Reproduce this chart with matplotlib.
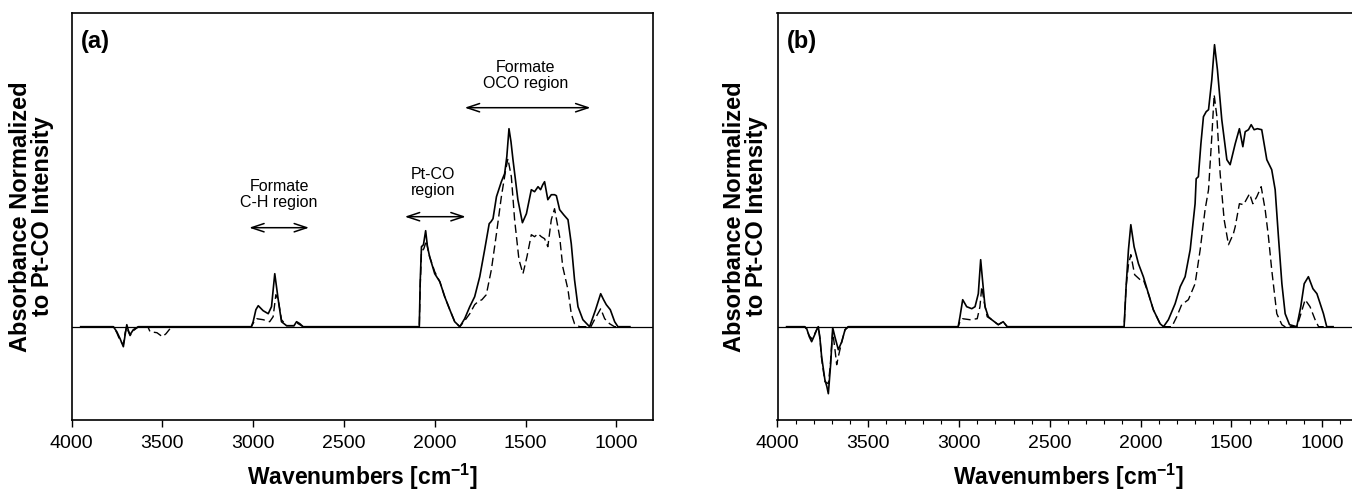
import numpy as np
import matplotlib
matplotlib.use("Agg")
import matplotlib.pyplot as plt
from matplotlib.ticker import MultipleLocator

plt.rcParams['font.family'] = ['Liberation Sans', 'DejaVu Sans']
plt.rcParams['mathtext.fontset'] = 'custom'
plt.rcParams['mathtext.rm'] = 'Liberation Sans:bold'
plt.rcParams['mathtext.bf'] = 'Liberation Sans:bold'

# panel (a) spectra (wavenumber, normalized absorbance)
wa_solid = [3950, 3770, 3751, 3733, 3715, 3705, 3696, 3687, 3678, 3660, 3632,
            3010, 3000, 2985, 2972, 2945, 2917, 2899, 2881, 2862, 2844, 2816,
            2775, 2761, 2743, 2725,
            2085, 2080, 2073, 2062, 2050, 2040, 2028, 2000, 1972, 1945, 1917,
            1890, 1862, 1835, 1807, 1780, 1752, 1725, 1700, 1690, 1679, 1660,
            1633, 1615, 1603, 1591, 1580, 1569, 1542, 1517, 1495, 1468, 1450,
            1431, 1417, 1405, 1395, 1377, 1358, 1340, 1330, 1312, 1290, 1266,
            1248, 1230, 1211, 1184, 1147, 1114, 1086, 1070, 1055, 1033, 1009,
            991, 925]
ya_solid = [0, 0, -0.05, -0.12, -0.20, -0.08, 0.02, -0.04, -0.08, -0.03, 0,
            0, 0.05, 0.17, 0.21, 0.16, 0.13, 0.20, 0.53, 0.27, 0.05, 0.01,
            0.01, 0.05, 0.03, 0,
            0, 0.45, 0.80, 0.82, 0.96, 0.80, 0.70, 0.53, 0.45, 0.30, 0.17,
            0.05, 0, 0.08, 0.20, 0.30, 0.50, 0.77, 1.03, 1.05, 1.08, 1.30,
            1.45, 1.53, 1.70, 1.98, 1.85, 1.67, 1.27, 1.04, 1.13, 1.37, 1.35,
            1.40, 1.37, 1.42, 1.45, 1.27, 1.32, 1.32, 1.31, 1.17, 1.12, 1.07,
            0.83, 0.47, 0.20, 0.07, 0, 0.17, 0.33, 0.27, 0.22, 0.17, 0.05,
            0, 0]

wa_dash = [3950, 3770, 3751, 3733, 3715, 3705, 3696, 3687, 3678, 3660, 3632,
           3580, 3568, 3530, 3500, 3480, 3458, 3440,
           3010, 2995, 2981, 2945, 2909, 2890, 2875, 2862, 2844, 2816,
           2775, 2761, 2743, 2725,
           2085, 2080, 2073, 2060, 2046, 2035, 2028, 2000, 1972, 1945, 1917,
           1890, 1862, 1835, 1807, 1780, 1762, 1740, 1716, 1688, 1660, 1633,
           1609, 1597, 1578, 1560, 1536, 1514, 1492, 1468, 1450, 1431, 1413,
           1395, 1377, 1358, 1340, 1312, 1295, 1266, 1248, 1230, 1202, 1140,
           1120, 1086, 1064, 1037, 1010, 925]
ya_dash = [0, 0, -0.06, -0.14, -0.18, -0.06, 0.0, -0.05, -0.09, -0.04, 0,
           0, -0.05, -0.06, -0.10, -0.07, -0.02, 0,
           0, 0.05, 0.08, 0.07, 0.05, 0.10, 0.32, 0.27, 0.07, 0.01,
           0.01, 0.04, 0.02, 0,
           0, 0.40, 0.75, 0.78, 0.86, 0.75, 0.70, 0.55, 0.45, 0.30, 0.17,
           0.05, 0, 0.06, 0.13, 0.22, 0.25, 0.27, 0.32, 0.57, 0.93, 1.30,
           1.57, 1.68, 1.50, 1.07, 0.67, 0.53, 0.70, 0.92, 0.90, 0.93, 0.90,
           0.88, 0.80, 1.07, 1.18, 0.90, 0.60, 0.37, 0.13, 0.03, 0, 0,
           0.07, 0.18, 0.08, 0.03, 0, 0]

# panel (b) spectra
wb_solid = [3950, 3850, 3839, 3825, 3812, 3795, 3784, 3775, 3766, 3757, 3739,
            3728, 3720, 3707, 3696, 3684, 3665, 3646, 3628, 3610,
            3005, 2995, 2980, 2958, 2930, 2912, 2894, 2881, 2870, 2857, 2839,
            2820, 2784, 2757, 2735,
            2091, 2080, 2067, 2054, 2036, 2012, 1985, 1957, 1930, 1893, 1874,
            1847, 1810, 1782, 1755, 1727, 1700, 1694, 1682, 1668, 1654, 1639,
            1626, 1608, 1593, 1577, 1553, 1525, 1507, 1479, 1456, 1437, 1424,
            1406, 1391, 1375, 1357, 1333, 1305, 1278, 1259, 1241, 1222, 1204,
            1180, 1140, 1118, 1099, 1076, 1051, 1029, 1011, 993, 975, 940]
yb_solid = [0, 0, -0.02, -0.10, -0.15, -0.08, -0.03, 0, -0.12, -0.30, -0.53,
            -0.60, -0.67, -0.37, -0.01, -0.10, -0.23, -0.15, -0.03, 0,
            0, 0.10, 0.27, 0.20, 0.18, 0.20, 0.33, 0.67, 0.45, 0.20, 0.10,
            0.07, 0.02, 0.05, 0,
            0, 0.40, 0.77, 1.02, 0.80, 0.63, 0.50, 0.33, 0.17, 0.03, 0,
            0.07, 0.23, 0.40, 0.50, 0.77, 1.23, 1.48, 1.50, 1.83, 2.10, 2.15,
            2.17, 2.47, 2.82, 2.57, 2.07, 1.67, 1.62, 1.83, 1.98, 1.80, 1.95,
            1.97, 2.02, 1.97, 1.98, 1.97, 1.67, 1.57, 1.37, 0.90, 0.43, 0.13,
            0.02, 0, 0.20, 0.43, 0.50, 0.38, 0.33, 0.23, 0.13, 0, 0]

wb_dash = [3950, 3850, 3839, 3825, 3812, 3795, 3784, 3775, 3766, 3757, 3739,
           3720, 3710, 3696, 3684, 3674, 3665, 3646, 3628, 3610,
           3005, 2995, 2981, 2940, 2900, 2885, 2875, 2862, 2845, 2820, 2784,
           2757, 2735,
           2091, 2080, 2067, 2054, 2033, 2003, 1985, 1957, 1930, 1893, 1874,
           1828, 1801, 1774, 1737, 1700, 1672, 1645, 1626, 1608, 1595, 1580,
           1562, 1540, 1516, 1489, 1479, 1456, 1433, 1415, 1400, 1382, 1360,
           1336, 1314, 1296, 1278, 1250, 1222, 1205, 1140, 1122, 1094, 1067,
           1039, 1020, 940]
yb_dash = [0, 0, -0.03, -0.09, -0.12, -0.07, -0.03, 0, -0.12, -0.32, -0.55,
           -0.57, -0.40, -0.05, -0.22, -0.38, -0.30, -0.15, -0.03, 0,
           0, 0.05, 0.08, 0.07, 0.08, 0.20, 0.40, 0.25, 0.10, 0.07, 0.02,
           0.05, 0,
           0, 0.40, 0.62, 0.72, 0.52, 0.47, 0.47, 0.33, 0.17, 0.03, 0,
           0, 0.10, 0.22, 0.27, 0.43, 0.77, 1.17, 1.37, 1.90, 2.32, 2.10,
           1.53, 1.07, 0.82, 0.93, 1.00, 1.23, 1.22, 1.28, 1.33, 1.23, 1.30,
           1.40, 1.17, 0.90, 0.57, 0.13, 0.02, 0, 0, 0.10, 0.27, 0.20,
           0.07, 0, 0]

# region annotations for panel (a): (text, x_text, y_text, x_from, x_to, y_arrow)
regions = [("Formate\nC-H region", 2857, 1.32, 3022, 2692, 0.99),
           ("Pt-CO\nregion", 2009, 1.44, 2165, 1829, 1.10),
           ("Formate\nOCO region", 1499, 2.51, 1835, 1142, 2.19)]

fig = plt.figure(figsize=(13.52, 4.98), dpi=100)
ax_a = fig.add_axes([71.6 / 1352, 1 - 420 / 498, 581 / 1352, 407 / 498])
ax_b = fig.add_axes([777.5 / 1352, 1 - 420 / 498, 581 / 1352, 407 / 498])

panels = [(ax_a, wa_solid, ya_solid, wa_dash, ya_dash, "(a)", -0.03),
          (ax_b, wb_solid, yb_solid, wb_dash, yb_dash, "(b)", -0.017)]

for ax, ws, ys, wd, yd, tag, lab_x in panels:
    ax.axhline(0, color="black", lw=0.9)
    ax.plot(ws, ys, color="black", lw=1.2)
    ax.plot(wd, yd, color="black", lw=1.0, dashes=(6, 3))
    ax.set_xlim(4000, 800)
    ax.set_ylim(-0.933, 3.137)
    ax.set_xticks([4000, 3500, 3000, 2500, 2000, 1500, 1000])
    ax.set_yticks([])
    ax.tick_params(axis="x", direction="out", length=5, width=1, labelsize=14, pad=6)
    for s in ax.spines.values():
        s.set_linewidth(1.2)
    ax.set_xlabel("Wavenumbers [cm$^{-1}$]", fontsize=16.5, fontweight="bold", labelpad=7)
    ax.set_ylabel("Absorbance Normalized\nto Pt-CO Intensity", fontsize=17,
                  fontweight="bold", linespacing=0.95)
    ax.yaxis.set_label_coords(lab_x, 0.5)
    ax.text(0.016, 0.93, tag, transform=ax.transAxes, fontsize=17,
            fontweight="bold", ha="left", va="center")

ax_b.xaxis.set_minor_locator(MultipleLocator(100))
ax_b.tick_params(axis="x", which="minor", direction="out", length=3, width=0.8)

for txt, xt, yt, x0, x1, ya in regions:
    ax_a.text(xt, yt, txt, ha="center", va="center", fontsize=11.5, linespacing=1.1)
    ax_a.annotate("", xy=(x1, ya), xytext=(x0, ya),
                  arrowprops=dict(arrowstyle="<->,head_length=0.9,head_width=0.3",
                                  color="black", lw=1.1, shrinkA=0, shrinkB=0))

fig.savefig("out.png", dpi=100)
